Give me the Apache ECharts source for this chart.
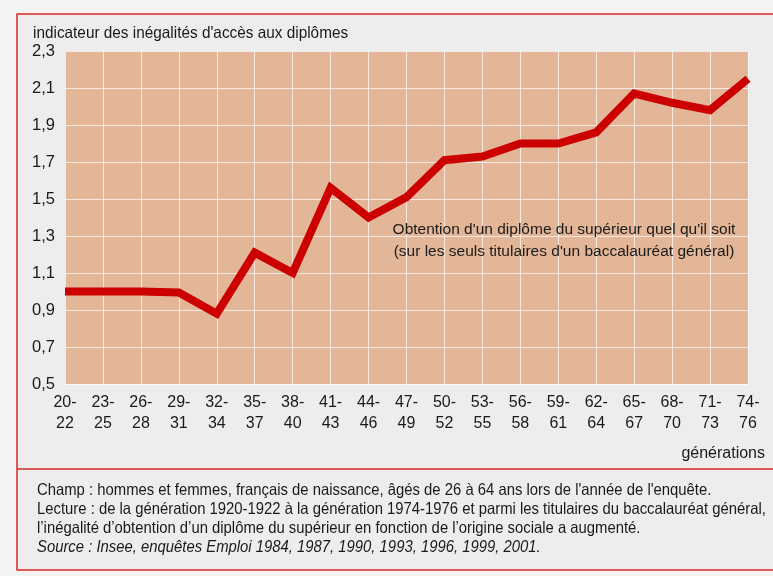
<!DOCTYPE html>
<html>
<head>
<meta charset="utf-8">
<script src="https://cdn.jsdelivr.net/npm/echarts@6/dist/echarts.min.js"></script>
<style>
  html, body { margin: 0; padding: 0; background: #f3f3f3; }
  #chart { width: 773px; height: 576px; }
</style>
</head>
<body>
<div id="chart"></div>
<script>
// générations (années de naissance)
const generations = ["20-\n22", "23-\n25", "26-\n28", "29-\n31", "32-\n34", "35-\n37", "38-\n40",
  "41-\n43", "44-\n46", "47-\n49", "50-\n52", "53-\n55", "56-\n58", "59-\n61", "62-\n64",
  "65-\n67", "68-\n70", "71-\n73", "74-\n76"];
// indicateur d'inégalité
const indicateur = [1.0, 1.0, 1.0, 0.995, 0.88, 1.21, 1.10, 1.56, 1.40, 1.51, 1.71, 1.73, 1.80, 1.80,
  1.86, 2.07, 2.02, 1.98, 2.15];
const yMin = 0.5, yMax = 2.3, yStep = 0.2;

const titre = "indicateur des inégalités d'accès aux diplômes";
const annotation = ["Obtention d'un diplôme du supérieur quel qu'il soit",
  "(sur les seuls titulaires d'un baccalauréat général)"];
const notes = [
  "Champ : hommes et femmes, français de naissance, âgés de 26 à 64 ans lors de l'année de l'enquête.",
  "Lecture : de la génération 1920-1922 à la génération 1974-1976 et parmi les titulaires du baccalauréat général,",
  "l’inégalité d’obtention d’un diplôme du supérieur en fonction de l’origine sociale a augmenté."
];
const source = "Source : Insee, enquêtes Emploi 1984, 1987, 1990, 1993, 1996, 1999, 2001.";

const chart = echarts.init(document.getElementById("chart"), null, { renderer: "canvas" });
const police = "Liberation Sans, Arial, sans-serif";

const option = {
  backgroundColor: "#f3f3f3",
  animation: false,
  textStyle: { fontFamily: police },
  grid: {
    left: 65, right: 25, top: 51, bottom: 192,
    show: true, backgroundColor: "#e3b697", borderWidth: 0
  },
  xAxis: {
    type: "category",
    data: generations,
    boundaryGap: false,
    axisLine: { show: false },
    axisTick: { show: false },
    axisLabel: { color: "#1a1a1a", fontSize: 16, lineHeight: 21, margin: 8, interval: 0, fontFamily: police },
    splitLine: { show: true, lineStyle: { color: "rgba(255,255,255,0.7)", width: 1 } }
  },
  yAxis: {
    type: "value",
    min: yMin, max: yMax, interval: yStep,
    axisLine: { show: false },
    axisTick: { show: false },
    axisLabel: {
      color: "#1a1a1a", fontSize: 16.5, margin: 10, fontFamily: police,
      formatter: v => v.toFixed(1).replace(".", ",")
    },
    splitLine: { show: true, lineStyle: { color: "rgba(255,255,255,0.7)", width: 1 } }
  },
  series: [{
    type: "line",
    data: indicateur,
    showSymbol: false,
    symbol: "none",
    lineStyle: { color: "#cc0000", width: 8, join: "miter", cap: "butt" },
    z: 5
  }],
  graphic: [
    { type: "rect", z: -10, shape: { x: 17, y: 14, width: 770, height: 556 },
      style: { fill: "#ededed", stroke: "#d42a2a", lineWidth: 1.5 } },
    { type: "line", z: -9, shape: { x1: 17, y1: 469, x2: 773, y2: 469 },
      style: { stroke: "#d42a2a", lineWidth: 1.5 } },
    { type: "text", x: 33, y: 25, scaleX: 0.93, z: 10,
      style: { text: titre, font: "16.5px " + police, fill: "#1a1a1a" } },
    { type: "text", x: 564, y: 219, z: 10,
      style: { text: annotation.join("\n"), font: "15.5px " + police, fill: "#1a1a1a",
        textAlign: "center", lineHeight: 22 } },
    { type: "text", x: 765, y: 446, z: 10,
      style: { text: "générations", font: "16px " + police, fill: "#1a1a1a", textAlign: "right" } },
    { type: "text", x: 37, y: 481, scaleX: 0.9, z: 10,
      style: { text: notes.join("\n"), font: "16.5px " + police, fill: "#1a1a1a", lineHeight: 19 } },
    { type: "text", x: 37, y: 539, scaleX: 0.9, z: 10,
      style: { text: source, font: "italic 16.5px " + police, fill: "#1a1a1a" } }
  ]
};

chart.setOption(option);
</script>
</body>
</html>
